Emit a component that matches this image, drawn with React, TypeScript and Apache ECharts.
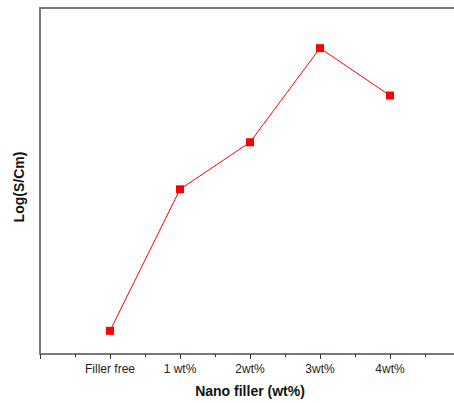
import React, { useEffect, useRef } from "react";
import * as echarts from "echarts";

const categories = ["Filler free", "1 wt%", "2wt%", "3wt%", "4wt%"];
const values = [6.7, 47.6, 61.2, 88.4, 74.7];

export default function App() {
  const ref = useRef<HTMLDivElement>(null);
  useEffect(() => {
    const chart = echarts.init(ref.current!, null, { renderer: "svg" });
    const axisColor = "#7a7a7a";
    chart.setOption({
      animation: false,
      backgroundColor: "#ffffff",
      grid: { left: 40, top: 8, width: 420, height: 346, outerBoundsMode: "none", containLabel: false },
      xAxis: [
        {
          type: "value",
          min: 0,
          max: 6,
          interval: 1,
          name: "Nano filler (wt%)",
          nameLocation: "middle",
          nameGap: 30,
          nameTextStyle: { fontFamily: "Liberation Sans", fontWeight: "bold", fontSize: 14, color: "#111" },
          axisLine: { show: true, lineStyle: { color: axisColor, width: 2 } },
          axisTick: { show: true, length: 5, lineStyle: { color: "#333", width: 1 } },
          minorTick: { show: true, splitNumber: 2, length: 3, lineStyle: { color: "#333", width: 1 } },
          splitLine: { show: false },
          axisLabel: {
            margin: 9,
            fontFamily: "Liberation Sans",
            fontSize: 12,
            color: "#222",
            formatter: (v: number) => (v >= 1 && v <= categories.length ? categories[v - 1] : ""),
          },
        },
        {
          type: "value",
          position: "top",
          min: 0,
          max: 6,
          axisLine: { show: true, lineStyle: { color: axisColor, width: 2 } },
          axisTick: { show: false },
          axisLabel: { show: false },
          splitLine: { show: false },
        },
      ],
      yAxis: {
        type: "value",
        min: 0,
        max: 100,
        name: "Log(S/Cm)",
        nameLocation: "middle",
        nameGap: 14,
        nameTextStyle: { fontFamily: "Liberation Sans", fontWeight: "bold", fontSize: 14, color: "#111", padding: [0, 12, 0, 0] },
        axisLine: { show: true, lineStyle: { color: axisColor, width: 2 } },
        axisTick: { show: false },
        axisLabel: { show: false },
        splitLine: { show: false },
      },
      series: [
        {
          type: "line",
          data: values.map((v, i) => [i + 1, v]),
          symbol: "rect",
          symbolSize: 8,
          itemStyle: { color: "#ff0000" },
          lineStyle: { color: "#ff0000", width: 1 },
        },
      ],
    });
    return () => chart.dispose();
  }, []);
  return <div ref={ref} style={{ width: 454, height: 403, position: "absolute", left: 0, top: 0 }} />;
}
